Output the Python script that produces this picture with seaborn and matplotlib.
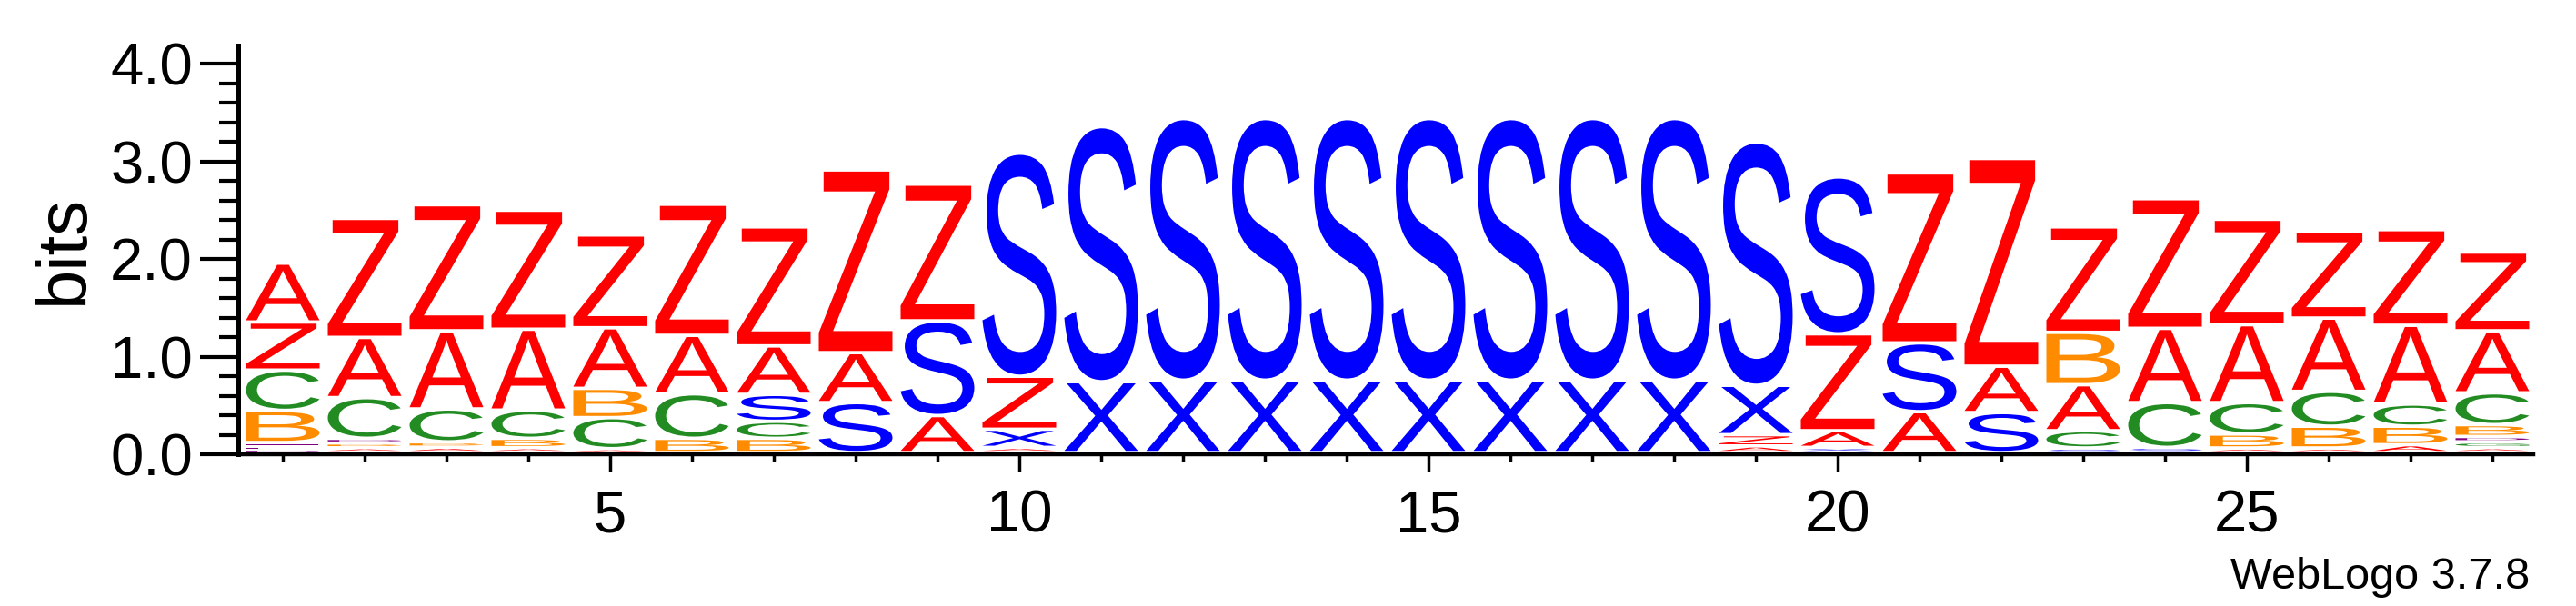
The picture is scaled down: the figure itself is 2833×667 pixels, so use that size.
import numpy as np
import pandas as pd
import matplotlib
matplotlib.use("Agg")
import matplotlib.pyplot as plt
import seaborn as sns
from matplotlib.textpath import TextPath
from matplotlib.font_manager import FontProperties
from matplotlib.patches import PathPatch
from matplotlib.transforms import Affine2D
from matplotlib.ticker import MultipleLocator, FormatStrFormatter

# ================= Data: stacks (bottom -> top, bits) =================
positions = list(range(1, 29))

stack_letters = [
    "DEFBCZA", "ABDCAZ", "ABCAZ", "ABCAZ", "ACBAZ", "BCAZ", "BCSAZ",
    "SAZ", "ASZ", "AXZS", "XS", "XS", "XS", "XS",
    "XS", "XS", "XS", "XS", "AZXS", "XAZS", "ASZ",
    "SAZ", "SCABZ", "SCAZ", "ABCAZ", "ABCAZ", "ABCAZ", "AGDBCAZ",
]

stack_heights = [
    [0.035, 0.034, 0.034, 0.329, 0.413, 0.493, 0.603],
    [0.050, 0.048, 0.048, 0.417, 0.617, 1.220],
    [0.055, 0.055, 0.337, 0.801, 1.292],
    [0.050, 0.096, 0.289, 0.829, 1.220],
    [0.040, 0.318, 0.300, 0.621, 0.951],
    [0.146, 0.456, 0.599, 1.344],
    [0.146, 0.174, 0.276, 0.497, 1.220],
    [0.512, 0.512, 1.873],
    [0.379, 0.971, 1.401],
    [0.053, 0.186, 0.543, 2.286],
    [0.726, 2.614],
    [0.742, 2.681],
    [0.742, 2.681],
    [0.742, 2.681],
    [0.742, 2.681],
    [0.742, 2.681],
    [0.742, 2.681],
    [0.742, 2.681],
    [0.068, 0.115, 0.506, 2.494],
    [0.053, 0.171, 0.993, 1.608],
    [0.419, 0.705, 1.742],
    [0.410, 0.475, 2.129],
    [0.047, 0.177, 0.471, 0.537, 1.081],
    [0.053, 0.459, 0.761, 1.329],
    [0.047, 0.143, 0.322, 0.798, 1.081],
    [0.047, 0.223, 0.357, 0.751, 0.889],
    [0.080, 0.190, 0.227, 0.807, 0.981],
    [0.050, 0.060, 0.055, 0.121, 0.326, 0.636, 0.807],
]

# Colour scheme of the logo
LETTER_COLORS = {
    "A": "#FF0000", "Z": "#FF0000",
    "S": "#0000FF", "X": "#0000FF",
    "C": "#228B22", "G": "#228B22",
    "B": "#FF8C00",
    "D": "#800080", "E": "#800080", "F": "#800080",
}

# Long table: one row per letter with its bottom in the stack
rows = []
for pos, letters, heights in zip(positions, stack_letters, stack_heights):
    bottom = 0.0
    for ch, h in zip(letters, heights):
        rows.append({"position": pos, "letter": ch, "height": h, "bottom": bottom})
        bottom += h
df = pd.DataFrame(rows)

# ================= Style =================
sns.set_theme(style="ticks", rc={
    "axes.edgecolor": "black", "xtick.color": "black", "ytick.color": "black",
    "text.color": "black", "axes.labelcolor": "black",
})
plt.rcParams["font.family"] = ["Liberation Sans", "DejaVu Sans"]

GLYPH_FONT = FontProperties(family="Liberation Sans")
GLYPH_WIDTH = 0.9
GLYPH_GAP = 0.035


def draw_letter(ax, ch, x, y0, h, color):
    """Stretch a glyph so that it fills its slot in the stack."""
    tp = TextPath((0, 0), ch, size=1, prop=GLYPH_FONT)
    ext = tp.get_extents()
    gh = max(h - GLYPH_GAP, 0.3 * h)
    tr = (Affine2D()
          .translate(-ext.x0, -ext.y0)
          .scale(GLYPH_WIDTH / ext.width, gh / ext.height)
          .translate(x - GLYPH_WIDTH / 2, y0 + h - gh))
    ax.add_patch(PathPatch(tr.transform_path(tp), facecolor=color,
                           edgecolor="none", lw=0))


# ================= Plot =================
fig = plt.figure(figsize=(28.33, 6.67), dpi=100)
ax = fig.add_axes([266 / 2833, 1 - 500 / 667, 2520 / 2833, 450 / 667])

for _, r in df.iterrows():
    draw_letter(ax, r["letter"], r["position"], r["bottom"], r["height"],
                LETTER_COLORS[r["letter"]])

ax.set_xlim(0.5, 28.5)
ax.set_ylim(0, 4.19)
ax.set_facecolor("white")
ax.grid(False)

sns.despine(ax=ax, offset={"left": 3})
ax.spines["left"].set_linewidth(3.6)
ax.spines["bottom"].set_linewidth(3.2)

ax.xaxis.set_major_locator(MultipleLocator(5))
ax.xaxis.set_minor_locator(MultipleLocator(1))
ax.yaxis.set_major_locator(MultipleLocator(1))
ax.yaxis.set_minor_locator(MultipleLocator(0.2))
ax.yaxis.set_major_formatter(FormatStrFormatter("%.1f"))

ax.tick_params(axis="y", which="major", direction="out", length=30, width=3,
               pad=6, labelsize=47)
ax.tick_params(axis="y", which="minor", direction="out", length=15, width=3)
ax.tick_params(axis="x", which="major", direction="out", length=13.7, width=2.5,
               pad=14, labelsize=47)
ax.tick_params(axis="x", which="minor", direction="out", length=5.8, width=2.5)

fig.text(70 / 2833, 1 - 275 / 667, "bits", rotation=90, ha="center",
         va="center", fontsize=56)
fig.text(2782 / 2833, 1 - 648 / 667, "WebLogo 3.7.8", ha="right",
         va="baseline", fontsize=35)

fig.savefig("out.png", dpi=100)
